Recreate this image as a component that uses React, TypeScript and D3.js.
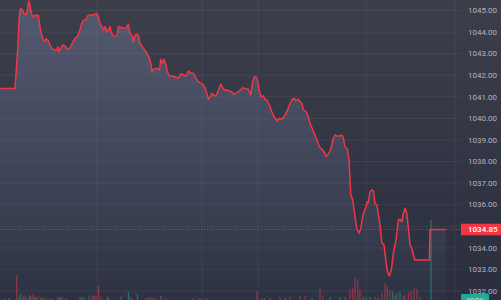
import React from "react";
import * as d3 from "d3";

const minutes = [
  0, 7.4, 8, 8.8, 9.5, 10, 11, 12, 13, 13.7, 14.4, 15, 15.9, 16.7, 17.5, 18.4, 19.2, 19.7, 20.4, 21.4,
  22.2, 23, 24.2, 25, 25.9, 27, 28.4, 28.9, 29.5, 30.4, 31.4, 32.5, 33.4, 34.5, 35.4, 36.4, 37.5, 38.7, 39.7, 40.9,
  41.7, 43, 43.7, 45, 46.7, 48.4, 49.2, 50, 50.9, 51.7, 52.5, 53.4, 54.2, 55, 55.5, 56.7, 58.4, 59.2, 60.4, 61.7,
  63, 64.2, 65, 65.9, 66.7, 67.5, 68.4, 69.2, 70, 70.9, 71.7, 73.4, 74.7, 75.4, 76, 76.7, 78.4, 79.7, 80.4, 81.2,
  82, 83, 83.7, 84.7, 85.9, 87.5, 89.2, 90.4, 92, 93, 94.2, 95.4, 96.7, 98, 99.2, 100.4, 101.7, 102.9, 104.2, 105,
  105.9, 107, 108, 109.2, 110.4, 111.4, 112.5, 113.7, 115, 115.9, 117, 118.4, 119.7, 121.4, 122.5, 124.2, 125.4, 126.2, 127.2, 128,
  128.9, 129.7, 130.5, 131.7, 132.5, 133.7, 134.7, 135.9, 137, 138.4, 139.7, 140.9, 142, 143.4, 144.7, 145.9, 147, 148, 149.2, 150,
  150.9, 151.7, 153, 154.2, 155, 156.4, 157.5, 158.7, 159.7, 160.9, 162, 163, 164.2, 165.4, 166.7, 167.5, 168.4, 169.7, 170.9, 171.7,
  172.5, 173.7, 174.5, 175, 175.4, 176.4, 177.5, 178.4, 179.5, 180.4, 181.2, 182, 183, 183.7, 184.2, 185, 185.9, 186.7, 187.5, 188.4,
  189.2, 190, 190.9, 192, 193, 193.7, 194.7, 195.7, 196.7, 198, 199.2, 200, 200.9, 201.7, 202.5, 203.4, 204.2, 205, 205.9, 206.7,
  207.5, 214.7, 215, 223,
];

const prices = [
  1041.39, 1041.39, 1042.01, 1043.17, 1044.47, 1045.07, 1045.06, 1044.87, 1044.79, 1045.02, 1045.44, 1045.25, 1044.79, 1044.71, 1044.79, 1044.75, 1044.79, 1044.42, 1044.02, 1043.68,
  1043.55, 1043.68, 1043.6, 1043.4, 1043.25, 1043.17, 1043.17, 1043.32, 1043.09, 1043.25, 1043.4, 1043.36, 1043.25, 1043.2, 1043.32, 1043.55, 1043.71, 1043.79, 1044.02, 1044.41,
  1044.56, 1044.56, 1044.75, 1044.79, 1044.79, 1044.87, 1044.71, 1044.41, 1044.25, 1044.1, 1044.25, 1044.02, 1044.1, 1044.25, 1044.02, 1043.82, 1043.82, 1044.25, 1044.22, 1044.18,
  1044.18, 1044.37, 1043.94, 1043.86, 1043.55, 1043.86, 1043.91, 1043.86, 1043.48, 1043.36, 1043.25, 1043.02, 1042.79, 1042.55, 1042.16, 1042.28, 1042.32, 1042.24, 1042.74, 1042.55,
  1042.74, 1042.47, 1042.16, 1041.96, 1041.96, 1041.93, 1041.86, 1042.06, 1042.01, 1041.96, 1042.2, 1042.09, 1042.09, 1041.86, 1041.7, 1041.63, 1041.55, 1041.32, 1040.89, 1040.98,
  1041.16, 1041.08, 1041.04, 1041.32, 1041.59, 1041.41, 1041.29, 1041.32, 1041.24, 1041.24, 1041.12, 1041.19, 1041.28, 1041.42, 1041.39, 1041.35, 1041.08, 1041.63, 1041.93, 1041.93,
  1041.7, 1041.24, 1041.01, 1041.04, 1040.89, 1040.82, 1040.62, 1040.31, 1040.08, 1039.88, 1040.0, 1039.96, 1040.08, 1040.31, 1040.62, 1040.85, 1040.93, 1040.82, 1040.89, 1040.77,
  1040.7, 1040.39, 1040.31, 1040.08, 1039.77, 1039.46, 1039.23, 1038.92, 1038.69, 1038.57, 1038.46, 1038.23, 1038.35, 1038.57, 1039.09, 1039.23, 1039.18, 1039.18, 1039.23, 1039.08,
  1038.69, 1038.57, 1038.07, 1037.15, 1036.45, 1036.22, 1035.44, 1034.91, 1034.68, 1034.91, 1035.37, 1035.68, 1035.88, 1036.14, 1036.09, 1036.6, 1036.68, 1036.65, 1036.07, 1035.99,
  1035.52, 1035.06, 1034.24, 1034.13, 1033.36, 1032.9, 1032.7, 1032.98, 1033.75, 1034.37, 1035.29, 1035.32, 1035.21, 1035.6, 1035.83, 1035.6, 1034.91, 1034.13, 1033.98, 1033.67,
  1033.44, 1033.44, 1034.85, 1034.85,
];

const volMinutes = [
  2.5, 4.5, 8.4, 9.5, 10.4, 11.7, 12.5, 13.5, 14.7, 15.5, 16.4, 17.3, 18, 19, 20.5, 21.5, 23, 25, 26, 29,
  30, 31, 33, 40, 41, 42, 44.5, 46, 47, 48, 49.2, 50.4, 53.7, 54.5, 60.5, 64.2, 65, 66, 68.7, 73,
  74, 75, 76, 77.5, 80.5, 83, 96.5, 99.5, 100.5, 102.5, 103.5, 128.5, 131, 132.5, 135, 140, 142.5, 145, 150, 152.5,
  156, 160, 161.5, 165, 170, 172.5, 175, 176.4, 177.5, 178.9, 180, 181.5, 183, 185, 187.5, 189, 191, 192.5, 193.7, 195,
  196.4, 197.5, 198.5, 200, 201.5, 202.5, 204.2, 205.5, 207, 208.5, 210, 215.5,
];
const volumes = [
  150, 200, 2500, 330, 650, 350, 450, 150, 500, 350, 550, 300, 250, 350, 250, 200, 200, 150, 150, 250,
  300, 300, 200, 250, 300, 250, 350, 450, 450, 400, 1400, 300, 400, 150, 350, 830, 350, 200, 600, 250,
  250, 300, 250, 150, 400, 250, 150, 150, 150, 150, 150, 900, 200, 200, 200, 300, 200, 300, 400, 400,
  200, 1170, 400, 300, 300, 300, 1050, 1250, 2300, 2050, 1000, 350, 300, 300, 300, 250, 700, 1700, 1400, 1000,
  830, 400, 700, 830, 400, 500, 730, 900, 1170, 1100, 300, 8000,
];
const volUp = [
  1, 1, 0, 1, 1, 0, 0, 1, 1, 0, 0, 1, 0, 0, 0, 1, 0, 0, 0, 1,
  1, 0, 0, 1, 1, 0, 1, 0, 0, 0, 0, 0, 0, 1, 1, 1, 0, 0, 1, 0,
  0, 0, 0, 1, 1, 0, 0, 1, 1, 0, 0, 0, 0, 1, 0, 0, 1, 0, 0, 0,
  1, 0, 0, 1, 1, 0, 0, 0, 0, 0, 0, 1, 1, 1, 0, 1, 0, 0, 0, 0,
  1, 1, 1, 1, 0, 0, 0, 0, 0, 0, 0, 1,
];

const priceTicks = [1032, 1033, 1034, 1035, 1036, 1037, 1038, 1039, 1040, 1041, 1042, 1043, 1044, 1045];
const timeTicks = [48.5, 101, 129, 183, 227.5];
const lastPrice = 1034.85;
const lastVolumeLabel = "400K";

const W = 501;
const H = 300;
const RED = "#f23645";
const TEAL = "#22ab94";

export default function App() {
  const x = d3.scaleLinear().domain([0, 230]).range([0, 460]);
  const y = d3.scaleLinear().domain([1032, 1045]).range([291, 10.5]);
  const yv = d3.scaleLinear().domain([0, 8000]).range([H, 220]);
  const data = minutes.map((m, i) => ({ m, p: prices[i] }));
  const line = d3.line<{ m: number; p: number }>().x((d) => x(d.m)).y((d) => y(d.p));
  const area = d3
    .area<{ m: number; p: number }>()
    .x((d) => x(d.m))
    .y0(H)
    .y1((d) => y(d.p));
  const fmt = d3.format(".2f");
  const axisX = 468;
  const labelX = 461;
  const yLast = y(lastPrice);

  return (
    <svg
      width={W}
      height={H}
      style={{ position: "fixed", left: 0, top: 0, display: "block" }}
      fontFamily="Roboto, 'Noto Sans', sans-serif"
    >
      <defs>
        <linearGradient id="bg" x1="0" y1="0" x2="0" y2="1">
          <stop offset="0" stopColor="#3c3e4a" />
          <stop offset="1" stopColor="#2a2e3e" />
        </linearGradient>
        <linearGradient id="fill" x1="0" y1="0" x2="0" y2="1">
          <stop offset="0" stopColor="#7a86b0" stopOpacity={0.38} />
          <stop offset="1" stopColor="#7a86b0" stopOpacity={0.04} />
        </linearGradient>
      </defs>
      <rect x={0} y={0} width={W} height={H} fill="url(#bg)" />
      {priceTicks.map((t) => (
        <line key={"g" + t} x1={0} x2={labelX} y1={y(t)} y2={y(t)} stroke="#ffffff" strokeOpacity={0.06} />
      ))}
      {timeTicks.map((t) => (
        <line key={"v" + t} x1={x(t)} x2={x(t)} y1={0} y2={H} stroke="#ffffff" strokeOpacity={0.06} />
      ))}
      <path d={area(data) || ""} fill="url(#fill)" />
      {volMinutes.map((m, i) => (
        <rect
          key={"vb" + i}
          x={x(m) - 0.6}
          y={yv(volumes[i])}
          width={1.2}
          height={H - yv(volumes[i])}
          fill={volUp[i] ? TEAL : RED}
          fillOpacity={0.55}
        />
      ))}
      <line
        x1={0}
        x2={labelX}
        y1={yLast}
        y2={yLast}
        stroke={RED}
        strokeOpacity={0.8}
        strokeDasharray="1 2"
      />
      <path d={line(data) || ""} fill="none" stroke={RED} strokeWidth={1.5} strokeLinejoin="round" />
      {priceTicks.map((t) => (
        <text key={"t" + t} x={axisX} y={y(t)} dy="0.35em" fontSize={8} fill="#b2b5be">
          {fmt(t)}
        </text>
      ))}
      <rect x={labelX} y={yLast - 5.8} width={W - labelX} height={11.6} fill={RED} />
      <text x={axisX} y={yLast} dy="0.35em" fontSize={8} fill="#ffffff" fontWeight={500}>
        {fmt(lastPrice)}
      </text>
      <rect x={labelX} y={294} width={28} height={12} rx={1} fill={TEAL} />
      <text x={labelX + 14} y={300} dy="0.35em" fontSize={8} fill="#ffffff" fillOpacity={0.7} textAnchor="middle">
        {lastVolumeLabel}
      </text>
    </svg>
  );
}
